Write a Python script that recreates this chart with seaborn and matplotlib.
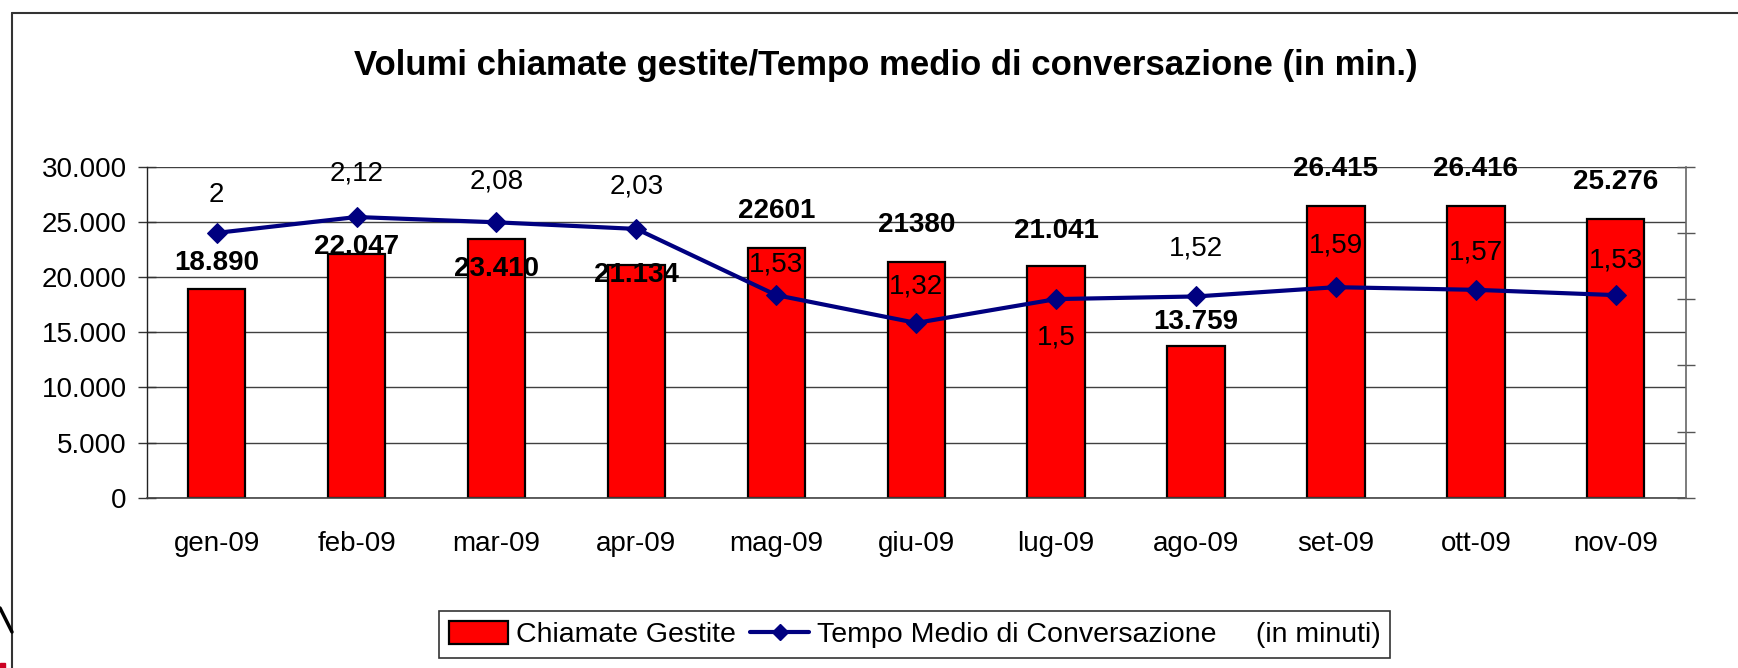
import numpy as np
import matplotlib
matplotlib.use("Agg")
import matplotlib.pyplot as plt
import seaborn as sns
from matplotlib.lines import Line2D
from matplotlib.patches import Patch, Rectangle
from matplotlib.ticker import FuncFormatter, MultipleLocator, FixedLocator

# ---------------------------
# DATA
# ---------------------------
mesi = ["gen-09", "feb-09", "mar-09", "apr-09", "mag-09", "giu-09",
        "lug-09", "ago-09", "set-09", "ott-09", "nov-09"]
chiamate = [18890, 22047, 23410, 21134, 22601, 21380, 21041, 13759, 26415, 26416, 25276]
chiamate_lbl = ["18.890", "22.047", "23.410", "21.134", "22601", "21380",
                "21.041", "13.759", "26.415", "26.416", "25.276"]
tempo = [2.0, 2.12, 2.08, 2.03, 1.53, 1.32, 1.5, 1.52, 1.59, 1.57, 1.53]

# label offsets (pixels, negative = up) as placed in the original
bar_lbl_dy = [-26, -7, 30, 10, -37, -37, -35, -24, -37, -37, -37]
line_lbl_dy = [-38, -44, -41, -42, -31, -36, 38, -48, -42, -37, -35]

# ---------------------------
# STYLE
# ---------------------------
sns.set_style("white")
plt.rcParams["font.family"] = ["Liberation Sans", "DejaVu Sans"]
plt.rcParams["text.color"] = "black"
plt.rcParams["xtick.color"] = "black"
plt.rcParams["ytick.color"] = "black"
plt.rcParams["axes.labelcolor"] = "black"

W, H = 1738, 668
fig = plt.figure(figsize=(W / 100, H / 100), dpi=100)
ax = fig.add_axes([146.7 / W, 1 - 497.7 / H, (1685.7 - 146.7) / W, (497.7 - 166.7) / H])

# ---------------------------
# BARS
# ---------------------------
x = np.arange(len(mesi))
sns.barplot(x=x, y=chiamate, color="#ff0000", edgecolor="black", linewidth=1.6,
            width=0.41, saturation=1, ax=ax, native_scale=True)
ax.set_xlim(-0.5, len(mesi) - 0.5)
ax.set_ylim(0, 30000)
ax.yaxis.set_major_locator(MultipleLocator(5000))
ax.yaxis.set_major_formatter(FuncFormatter(lambda v, p: f"{int(v):,}".replace(",", ".")))
ax.set_xticks(x)
ax.set_xticklabels(mesi)
ax.xaxis.set_minor_locator(FixedLocator(np.arange(-0.5, len(mesi), 1)))
ax.tick_params(axis="x", which="major", length=0, labelsize=20, pad=24, labelcolor="black")
ax.tick_params(axis="x", which="minor", direction="inout", length=16, width=1, color="#333333")
ax.tick_params(axis="y", direction="inout", length=13, width=1, color="#333333",
               labelsize=20, pad=8, labelcolor="black")
ax.set_xlabel("")
ax.set_ylabel("")
ax.grid(axis="y", color="#404040", linewidth=1)
ax.get_ygridlines()[-1].set_visible(False)
for s in ["top", "right"]:
    ax.spines[s].set_visible(False)
ax.spines["left"].set_color("#222222")
ax.spines["bottom"].set_color("#444444")
ax.spines["left"].set_linewidth(1)
ax.spines["bottom"].set_linewidth(1.2)

for i, (v, t) in enumerate(zip(chiamate, chiamate_lbl)):
    ax.annotate(t, xy=(i, v), xytext=(0, -bar_lbl_dy[i]), textcoords="offset pixels",
                ha="center", va="center", fontsize=20, fontweight="bold", color="black")

# ---------------------------
# LINE (secondary axis)
# ---------------------------
ax2 = ax.twinx()
sns.lineplot(x=x, y=tempo, color="#000080", linewidth=3, marker="D", markersize=10,
             markeredgecolor="#000080", ax=ax2)
ax2.set_ylim(0, 2.5)
ax2.yaxis.set_major_locator(MultipleLocator(0.5))
ax2.set_yticklabels([])
ax2.tick_params(axis="y", direction="inout", length=13, width=1, color="#555555")
ax2.set_ylabel("")
for s in ["top", "left", "bottom"]:
    ax2.spines[s].set_visible(False)
ax2.spines["right"].set_color("#666666")
ax2.spines["right"].set_linewidth(1.2)
ax2.set_xlim(-0.5, len(mesi) - 0.5)

for i, v in enumerate(tempo):
    ax2.annotate(f"{v:g}".replace(".", ","), xy=(i, v), xytext=(0, -line_lbl_dy[i]),
                 textcoords="offset pixels", ha="center", va="center", fontsize=20,
                 color="black")

# ---------------------------
# TITLE / LEGEND / FRAME
# ---------------------------
fig.text(886 / W, 1 - 65 / H, "Volumi chiamate gestite/Tempo medio di conversazione (in min.)",
         ha="center", va="center", fontsize=25, fontweight="bold", color="black")

handles = [Patch(facecolor="#ff0000", edgecolor="black", linewidth=1.6),
           Line2D([], [], color="#000080", linewidth=3, marker="D", markersize=8)]
labels = ["Chiamate Gestite", "Tempo Medio di Conversazione     (in minuti)"]
leg = fig.legend(handles, labels, loc="center", bbox_to_anchor=(914.5 / W, 1 - 634.5 / H),
                 ncol=2, fontsize=20.5, frameon=True, fancybox=False, handlelength=2.1,
                 handleheight=0.9, handletextpad=0.25, columnspacing=0.5, borderpad=0.35,
                 borderaxespad=0)
leg.get_frame().set_edgecolor("black")
leg.get_frame().set_linewidth(1.2)
for t in leg.get_texts():
    t.set_color("black")

# outer frame of the slide chart
fig.add_artist(Line2D([12 / W, 1], [1 - 12.5 / H, 1 - 12.5 / H], color="#333333", linewidth=1.5))
fig.add_artist(Line2D([12 / W, 12 / W], [0, 1 - 12.5 / H], color="#333333", linewidth=1.5))
fig.add_artist(Line2D([0, 12 / W], [1 - 608 / H, 1 - 632 / H], color="black", linewidth=2.5))
fig.add_artist(Rectangle((0, 0), 5 / W, 5 / H, color="#cc0022", transform=fig.transFigure))

fig.savefig("out.png", dpi=100)
